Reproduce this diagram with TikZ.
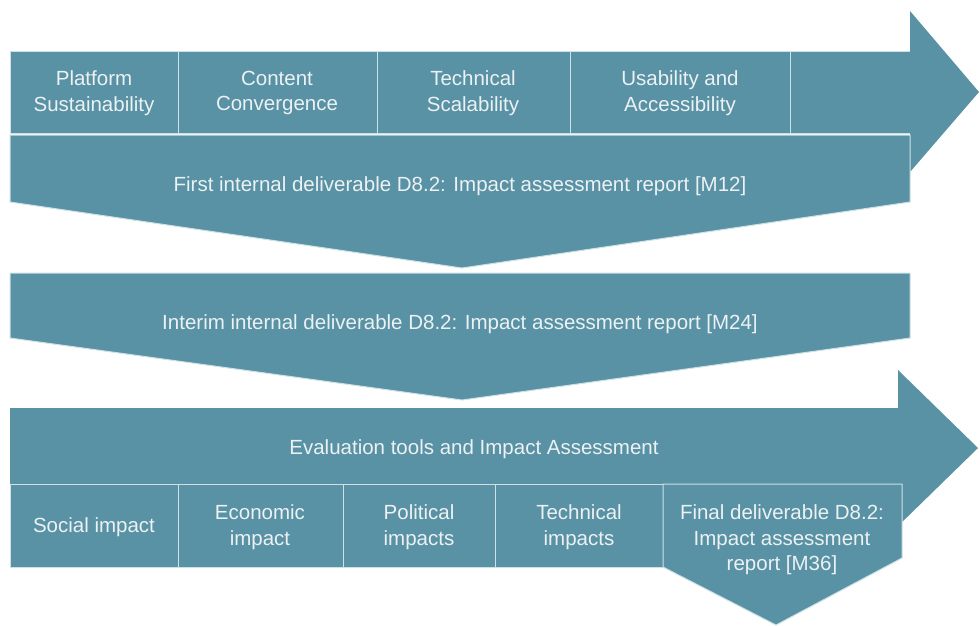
\documentclass[tikz,border=0pt]{standalone}
\usepackage{fontspec}
\setmainfont{Liberation Sans}
\begin{document}
\definecolor{teal}{RGB}{88,146,164}
\definecolor{edge}{RGB}{205,225,231}
\definecolor{txt}{RGB}{236,241,243}
\begin{tikzpicture}[x=1pt,y=-1pt,
  band/.style={fill=teal,draw=edge,line width=1pt,line join=miter},
  label/.style={text=txt,font=\fontsize{20.5}{25.6}\selectfont,align=center,inner sep=0pt}]
\useasboundingbox (0,0) rectangle (980,625);
\fill[white] (0,0) rectangle (980,625);

% top process arrow with its five cells
\fill[teal] (10,51) -- (910,51) -- (910,11) -- (979,92) -- (910,172) -- (910,133) -- (10,133) -- cycle;
\foreach \a/\b in {10/178,178/377,377/570,570/790}
  \draw[band] (\a,51) rectangle (\b,133);
\draw[edge,line width=1pt] (790,51) -- (910,51) (790,133) -- (910,133);
\node[label] (p1) at (94,93)  {Platform\\Sustainability};
\node[label] (p2) at (277,93) {Content\\Convergence};
\node[label] (p3) at (473,93) {Technical\\Scalability};
\node[label] (p4) at (680,93) {Usability and\\Accessibility};

% first chevron
\draw[band] (10,135) -- (910,135) -- (910,202) -- (462,268) -- (10,202) -- cycle;
\node[label] (d1) at (460,186) {First internal deliverable D8.2: Impact assessment report [M12]};

% second chevron
\draw[band] (10,273) -- (910,273) -- (910,338) -- (462,400) -- (10,338) -- cycle;
\node[label] (d2) at (460,324) {Interim internal deliverable D8.2: Impact assessment report [M24]};

% bottom process arrow
\fill[teal] (10,408) -- (898,408) -- (898,370) -- (978,448) -- (898,526) -- (898,488) -- (10,488) -- cycle;
\node[label] (ev) at (474,449) {Evaluation tools and Impact Assessment};
\foreach \a/\b in {10/178,178/343,343/495,495/663}
  \draw[band] (\a,484) rectangle (\b,567);
\draw[band] (663,484) -- (902,484) -- (902,558) -- (776,625) -- (663,567) -- cycle;
\node[label] (i1) at (94,527)  {Social impact};
\node[label] (i2) at (260,527) {Economic\\impact};
\node[label] (i3) at (419,527) {Political\\impacts};
\node[label] (i4) at (579,527) {Technical\\impacts};
\node[label] (fd) at (782,540) {Final deliverable D8.2:\\Impact assessment\\report [M36]};
\end{tikzpicture}
\end{document}
